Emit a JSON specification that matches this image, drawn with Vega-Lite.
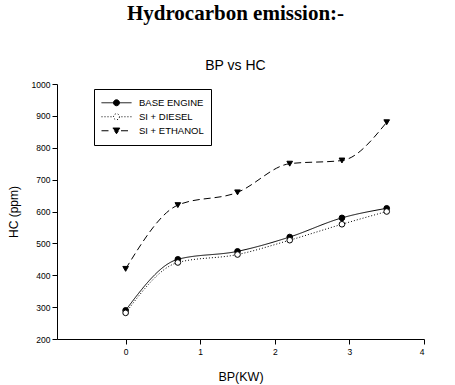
{
  "$schema": "https://vega.github.io/schema/vega-lite/v6.json",
  "autosize": "none",
  "width": 367,
  "height": 255,
  "padding": {"left": 57, "top": 84, "right": 31, "bottom": 46},
  "background": "white",
  "title": {
    "text": "Hydrocarbon emission:-",
    "subtitle": "BP vs HC",
    "font": "Liberation Serif",
    "fontSize": 21,
    "fontWeight": "bold",
    "color": "#000",
    "subtitleFont": "Liberation Sans",
    "subtitleFontSize": 14,
    "subtitleColor": "#000",
    "subtitlePadding": 35,
    "offset": 7,
    "anchor": "middle",
    "dx": -5
  },
  "config": {
    "view": {"stroke": null},
    "axis": {
      "grid": false,
      "domainColor": "#000",
      "tickColor": "#000",
      "labelColor": "#000",
      "titleColor": "#000",
      "labelFont": "Liberation Sans",
      "titleFont": "Liberation Sans",
      "titleFontWeight": "normal",
      "labelFontSize": 8.5,
      "titleFontSize": 12,
      "tickSize": 5,
      "domainWidth": 1,
      "tickWidth": 1
    }
  },
  "data": {
    "values": [
      {"bp": 0, "hc": 290, "engine": "BASE ENGINE"},
      {"bp": 0.7, "hc": 450, "engine": "BASE ENGINE"},
      {"bp": 1.5, "hc": 475, "engine": "BASE ENGINE"},
      {"bp": 2.2, "hc": 520, "engine": "BASE ENGINE"},
      {"bp": 2.9, "hc": 580, "engine": "BASE ENGINE"},
      {"bp": 3.5, "hc": 610, "engine": "BASE ENGINE"},
      {"bp": 0, "hc": 282, "engine": "SI + DIESEL"},
      {"bp": 0.7, "hc": 440, "engine": "SI + DIESEL"},
      {"bp": 1.5, "hc": 465, "engine": "SI + DIESEL"},
      {"bp": 2.2, "hc": 510, "engine": "SI + DIESEL"},
      {"bp": 2.9, "hc": 560, "engine": "SI + DIESEL"},
      {"bp": 3.5, "hc": 600, "engine": "SI + DIESEL"},
      {"bp": 0, "hc": 420, "engine": "SI + ETHANOL"},
      {"bp": 0.7, "hc": 620, "engine": "SI + ETHANOL"},
      {"bp": 1.5, "hc": 660, "engine": "SI + ETHANOL"},
      {"bp": 2.2, "hc": 750, "engine": "SI + ETHANOL"},
      {"bp": 2.9, "hc": 760, "engine": "SI + ETHANOL"},
      {"bp": 3.5, "hc": 880, "engine": "SI + ETHANOL"}
    ]
  },
  "encoding": {
    "x": {
      "field": "bp",
      "type": "quantitative",
      "scale": {"domain": [-0.92, 4], "nice": false, "zero": false},
      "axis": {"values": [0, 1, 2, 3, 4], "title": "BP(KW)", "labelPadding": 3, "titleBaseline": "alphabetic", "titleY": 41, "titleFontSize": 12.5}
    },
    "y": {
      "field": "hc",
      "type": "quantitative",
      "scale": {"domain": [200, 1000], "nice": false, "zero": false},
      "axis": {"values": [200, 300, 400, 500, 600, 700, 800, 900, 1000], "format": "d", "title": "HC (ppm)", "labelPadding": 2, "titleX": -37, "titleFontSize": 12}
    }
  },
  "layer": [
    {
      "mark": {"type": "line", "interpolate": "monotone", "stroke": "#000", "strokeWidth": 1},
      "encoding": {
        "strokeDash": {
          "field": "engine",
          "type": "nominal",
          "scale": {"domain": ["BASE ENGINE", "SI + DIESEL", "SI + ETHANOL"], "range": [[1, 0], [1, 2], [7, 4]]},
          "legend": {
            "title": null,
            "orient": "none",
            "legendX": 37,
            "legendY": 5,
            "direction": "vertical",
            "strokeColor": "#000",
            "fillColor": "#fff",
            "padding": 7,
            "symbolSize": 900,
            "clipHeight": 13.5,
            "rowPadding": 0,
            "labelFont": "Liberation Sans",
            "labelFontSize": 9.5,
            "labelColor": "#000",
            "labelOffset": 7,
            "symbolStrokeColor": "#000",
            "symbolStrokeWidth": 1,
            "cornerRadius": 0,
            "encoding": {
              "symbols": {
                "shape": {"value": {"expr": "datum.value === 'BASE ENGINE' ? 'M-1,0H1M0.2,0A0.2,0.2,0,1,1,-0.2,0A0.2,0.2,0,1,1,0.2,0Z' : datum.value === 'SI + DIESEL' ? 'M-1,0h0.07M-0.8,0h0.07M-0.6,0h0.07M-0.4,0h0.07M0.33,0h0.07M0.53,0h0.07M0.73,0h0.07M0.93,0h0.07M0.2,0A0.2,0.2,0,1,1,-0.2,0A0.2,0.2,0,1,1,0.2,0Z' : 'M-1,0H-0.3M0.3,0H1M-0.25,-0.18L0.25,-0.18L0,0.2Z'"}},
                "fill": {"value": {"expr": "datum.value === 'SI + DIESEL' ? '#fff' : '#000'"}},
                "stroke": {"value": "#000"},
                "strokeWidth": {"value": 1},
                "strokeOpacity": {"value": 1},
                "strokeDash": {"value": [1, 0]}
              }
            }
          }
        }
      }
    },
    {
      "mark": {"type": "point", "filled": true, "stroke": "#000", "strokeWidth": 1, "opacity": 1, "size": 32},
      "encoding": {
        "shape": {
          "condition": {"test": "datum.engine === 'SI + ETHANOL'", "value": "triangle-down"},
          "value": "circle"
        },
        "fill": {
          "condition": {"test": "datum.engine === 'SI + DIESEL'", "value": "#fff"},
          "value": "#000"
        },
        "detail": {"field": "engine", "type": "nominal"}
      }
    }
  ]
}
